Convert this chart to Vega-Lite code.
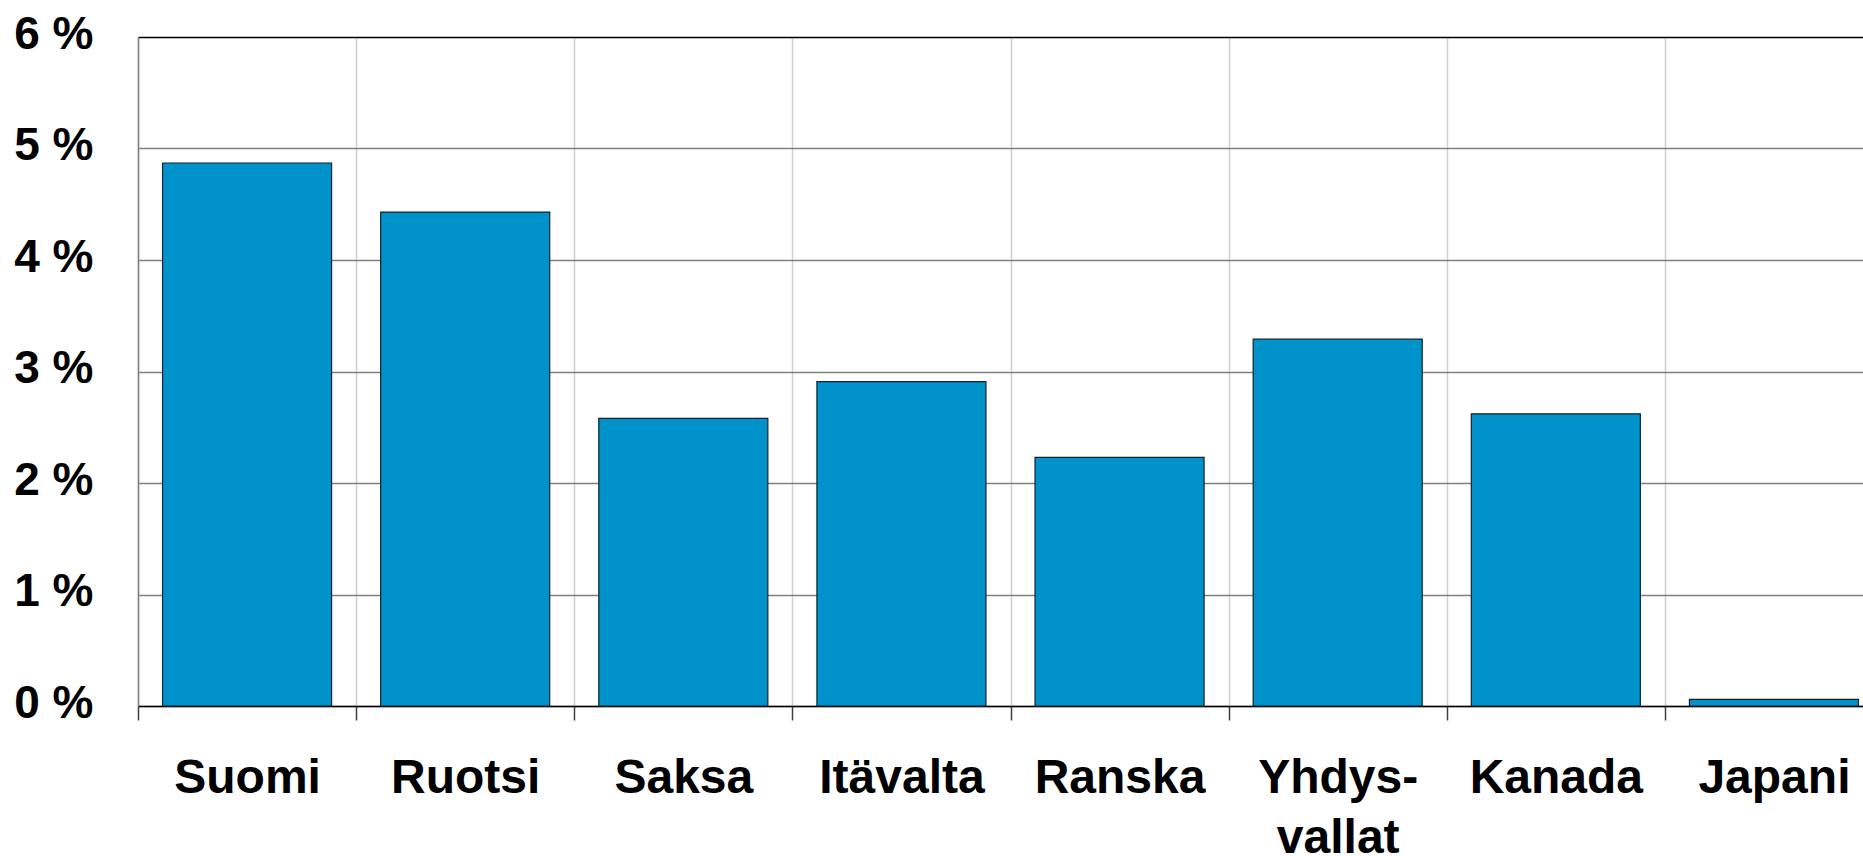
{
  "$schema": "https://vega.github.io/schema/vega-lite/v6.json",
  "width": 1725,
  "height": 669,
  "autosize": {"type": "none"},
  "padding": {"left": 138, "top": 37, "right": 0, "bottom": 150},
  "background": "white",
  "config": {"view": {"stroke": null}, "font": "Liberation Sans"},
  "data": {
    "values": [
      {"country": "Suomi", "value": 4.87},
      {"country": "Ruotsi", "value": 4.43},
      {"country": "Saksa", "value": 2.58},
      {"country": "Itävalta", "value": 2.91},
      {"country": "Ranska", "value": 2.23},
      {"country": "Yhdysvallat", "value": 3.29},
      {"country": "Kanada", "value": 2.62},
      {"country": "Japani", "value": 0.06}
    ]
  },
  "mark": {"type": "bar", "color": "#0092CA", "stroke": "#10232c", "strokeWidth": 1.2},
  "encoding": {
    "x": {
      "field": "country",
      "type": "nominal",
      "sort": null,
      "scale": {"range": [0, 1745], "paddingInner": 0.225, "paddingOuter": 0.1125},
      "axis": {
        "title": null,
        "labelAngle": 0,
        "bandPosition": 0.5,
        "tickOffset": -109,
        "labelOffset": 109,
        "labelAlign": "center",
        "labelOverlap": false,
        "labelBound": false,
        "labelFlush": false,
        "grid": true,
        "gridColor": "#d0d0d0",
        "gridWidth": 1.5,
        "domainColor": "#000000",
        "domainWidth": 1.5,
        "tickColor": "#404040",
        "tickSize": 14,
        "tickWidth": 1.5,
        "labelFont": "Liberation Sans",
        "labelFontSize": 48,
        "labelFontWeight": "bold",
        "labelColor": "#000000",
        "labelBaseline": "alphabetic",
        "labelPadding": 72,
        "labelLineHeight": 60,
        "labelExpr": "datum.label == 'Yhdysvallat' ? ['Yhdys-', 'vallat'] : datum.label"
      }
    },
    "y": {
      "field": "value",
      "type": "quantitative",
      "scale": {"domain": [0, 6], "nice": false},
      "axis": {
        "title": null,
        "values": [0, 1, 2, 3, 4, 5, 6],
        "labelExpr": "datum.value + ' %'",
        "ticks": false,
        "labelPadding": 45,
        "labelFont": "Liberation Sans",
        "labelFontSize": 46,
        "labelFontWeight": "bold",
        "labelColor": "#000000",
        "labelBaseline": "middle",
        "labelOffset": -3,
        "domainColor": "#808080",
        "domainWidth": 1.5,
        "grid": true,
        "gridColor": {"condition": {"test": "datum.value === 6", "value": "#000000"}, "value": "#808080"},
        "gridWidth": 1.5
      }
    }
  }
}
